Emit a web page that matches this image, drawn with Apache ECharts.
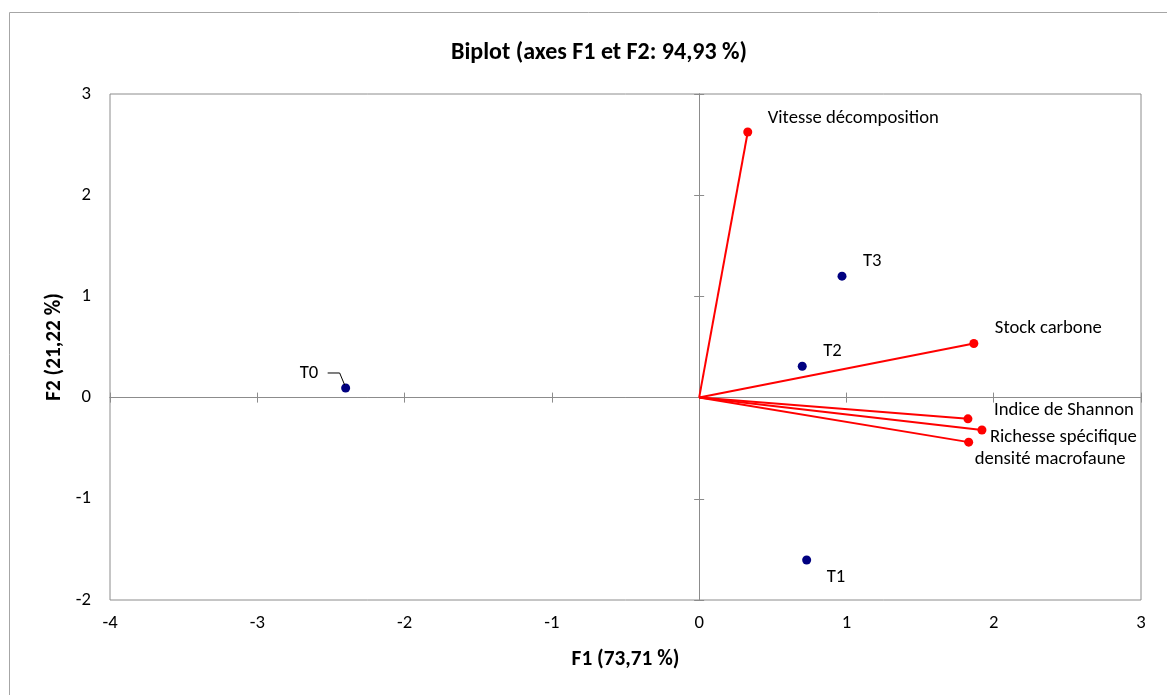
<!DOCTYPE html>
<html><head><meta charset="utf-8">
<script src="https://cdn.jsdelivr.net/npm/echarts@6/dist/echarts.min.js"></script>
<style>html,body{margin:0;padding:0;background:#fff}#c{width:1167px;height:695px}</style>
</head><body><div id="c"></div>
<script>
// Variables (vectors)
const varNames = ['Vitesse décomposition','Stock carbone','Indice de Shannon','Richesse spécifique','densité macrofaune'];
const varF1 = [0.33, 1.865, 1.825, 1.92, 1.83];
const varF2 = [2.625, 0.535, -0.21, -0.32, -0.44];
// Observations
const obsNames = ['T0','T1','T2','T3'];
const obsF1 = [-2.40, 0.73, 0.70, 0.97];
const obsF2 = [0.095, -1.605, 0.31, 1.20];
// Axis ticks
const xTicks = [-4,-3,-2,-1,0,1,2,3];
const yTicks = [-2,-1,0,1,2,3];

// label offsets (style only)
const varLabelOffsets = [[20,-14],[21,-15],[26,-9],[8,7],[6,17]];
const obsLabelOffsets = [[-46,-15],[20,17],[21,-15],[21,-15]];

const FONT = 'Carlito, Lato, "Open Sans", sans-serif';
const GRAY = '#8c8c8c';
const FS = 18.67;

const chart = echarts.init(document.getElementById('c'));
const xAxisBase = {type:'value', min:xTicks[0], max:xTicks[xTicks.length-1], interval:1};
const yAxisBase = {type:'value', min:yTicks[0], max:yTicks[yTicks.length-1], interval:1};

chart.setOption({
  backgroundColor:'#fff',
  animation:false,
  title:{text:'Biplot (axes F1 et F2: 94,93 %)', left:594, top:36, textAlign:'center',
    textStyle:{fontFamily:FONT, fontSize:24, fontWeight:'bold', color:'#000'}},
  grid:{left:110, right:26, top:94, bottom:95, show:true, borderColor:GRAY, borderWidth:1, backgroundColor:'#fff'},
  xAxis:[
    Object.assign({}, xAxisBase, {position:'bottom', axisLine:{show:false, onZero:false}, axisTick:{show:false}, splitLine:{show:false},
      axisLabel:{fontFamily:FONT, fontSize:FS, color:'#000', margin:14},
      name:'F1 (73,71 %)', nameLocation:'middle', nameGap:49,
      nameTextStyle:{fontFamily:FONT, fontSize:21.33, fontWeight:'bold', color:'#000'}}),
    Object.assign({}, xAxisBase, {axisLine:{show:true, onZero:true, lineStyle:{color:GRAY, width:1}}, axisTick:{show:true, inside:true, length:5, lineStyle:{color:GRAY}}, axisLabel:{show:false}, splitLine:{show:false}}),
    Object.assign({}, xAxisBase, {axisLine:{show:true, onZero:true, lineStyle:{color:GRAY, width:1}}, axisTick:{show:true, inside:false, length:5, lineStyle:{color:GRAY}}, axisLabel:{show:false}, splitLine:{show:false}})
  ],
  yAxis:[
    Object.assign({}, yAxisBase, {position:'left', axisLine:{show:false, onZero:false}, axisTick:{show:false}, splitLine:{show:false},
      axisLabel:{fontFamily:FONT, fontSize:FS, color:'#000', margin:19},
      name:'F2 (21,22 %)', nameLocation:'middle', nameGap:42, nameRotate:90,
      nameTextStyle:{fontFamily:FONT, fontSize:21.33, fontWeight:'bold', color:'#000'}}),
    Object.assign({}, yAxisBase, {axisLine:{show:true, onZero:true, lineStyle:{color:GRAY, width:1}}, axisTick:{show:true, inside:true, length:5, lineStyle:{color:GRAY}}, axisLabel:{show:false}, splitLine:{show:false}}),
    Object.assign({}, yAxisBase, {axisLine:{show:true, onZero:true, lineStyle:{color:GRAY, width:1}}, axisTick:{show:true, inside:false, length:5, lineStyle:{color:GRAY}}, axisLabel:{show:false}, splitLine:{show:false}})
  ],
  series:[
    {type:'lines', coordinateSystem:'cartesian2d', xAxisIndex:0, yAxisIndex:0, silent:true,
      lineStyle:{color:'#ff0000', width:2, opacity:1},
      data: varNames.map((n,i)=>({coords:[[0,0],[varF1[i],varF2[i]]]})), z:3},
    {type:'scatter', xAxisIndex:0, yAxisIndex:0, symbolSize:9, itemStyle:{color:'#ff0000', opacity:1}, z:4,
      data: varNames.map((n,i)=>({value:[varF1[i],varF2[i]], name:n,
        label:{show:true, position:'inside', align:'left', verticalAlign:'middle', offset:varLabelOffsets[i],
          formatter:n, fontFamily:FONT, fontSize:FS, color:'#000'}}))},
    {type:'scatter', xAxisIndex:0, yAxisIndex:0, symbolSize:9, itemStyle:{color:'#000080', opacity:1}, z:4,
      data: obsNames.map((n,i)=>({value:[obsF1[i],obsF2[i]], name:n,
        label:{show:true, position:'inside', align:'left', verticalAlign:'middle', offset:obsLabelOffsets[i],
          formatter:n, fontFamily:FONT, fontSize:FS, color:'#000'}}))}
  ]
});

// T0 leader line, computed from data position
const p = chart.convertToPixel({xAxisIndex:0, yAxisIndex:0}, [obsF1[0], obsF2[0]]);
chart.setOption({graphic:[
  {type:'rect', shape:{x:9.5, y:12.5, width:1200, height:700}, style:{fill:null, stroke:'#a6a6a6', lineWidth:1}, silent:true, z:-1},
  {type:'polyline', shape:{points:[[p[0]-18,p[1]-15],[p[0]-6,p[1]-15],[p[0]-1,p[1]-3]]}, style:{stroke:'#000', lineWidth:1, fill:null}, silent:true, z:10}
]});
</script></body></html>
